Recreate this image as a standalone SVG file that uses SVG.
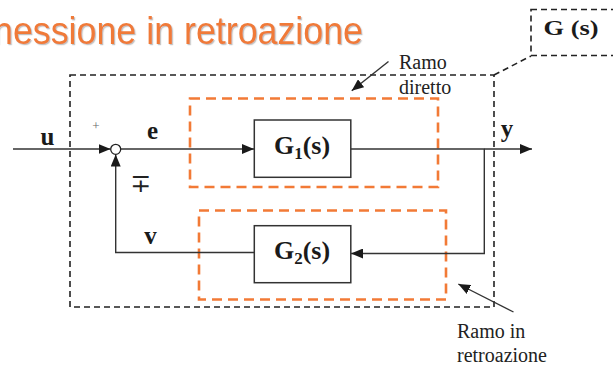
<svg xmlns="http://www.w3.org/2000/svg" width="613" height="367" viewBox="0 0 613 367">
<defs>
<marker id="arr" viewBox="0 0 12 10" refX="12" refY="5" markerWidth="12" markerHeight="10" markerUnits="userSpaceOnUse" orient="auto">
<path d="M0,0 L12,5 L0,10 Z" fill="#1a1a1a"/>
</marker>
<filter id="sh" x="-5%" y="-20%" width="110%" height="140%">
<feDropShadow dx="1.2" dy="1.2" stdDeviation="0.6" flood-color="#999" flood-opacity="0.6"/>
</filter>
<style>
.bd{fill:none;stroke:#222;stroke-width:1.6;stroke-dasharray:6 4}
.od{fill:none;stroke:#F27A36;stroke-width:2.6;stroke-dasharray:10 6}
.blk{fill:#fff;stroke:#333;stroke-width:1.5}
.ln{fill:none;stroke:#333;stroke-width:1.4}
.lb{font-family:"Liberation Serif","Times New Roman",serif;font-weight:bold;fill:#1a1a1a}
.tx{font-family:"Liberation Serif","Times New Roman",serif;font-size:20px;fill:#222}
</style>
</defs>
<rect width="613" height="367" fill="#fff"/>
<text x="-7" y="43.5" font-family="'Liberation Sans',Arial,sans-serif" font-size="39" fill="#F07A38" textLength="370" lengthAdjust="spacingAndGlyphs" filter="url(#sh)">nessione in retroazione</text>

<g id="frame-G">
<rect class="bd" x="70" y="75" width="424" height="232"/>
<path class="bd" d="M494,75 L531,56"/>
<rect class="bd" x="531" y="9.5" width="90" height="46"/>
<text class="lb" x="571" y="35" font-size="21" text-anchor="middle" textLength="55" lengthAdjust="spacingAndGlyphs">G (s)</text>
</g>

<g id="ramo-diretto">
<rect class="od" x="190" y="98.5" width="248" height="88.5"/>
<text class="tx" x="399" y="69">Ramo</text>
<text class="tx" x="399" y="94">diretto</text>
</g>

<g id="ramo-retroazione">
<rect class="od" x="199" y="210.5" width="247" height="89"/>
<text class="tx" x="457" y="337.5">Ramo in</text>
<text class="tx" x="457" y="361.5">retroazione</text>
</g>

<g id="connectors">
<line class="ln" x1="13" y1="149" x2="110.5" y2="149" marker-end="url(#arr)"/>
<line class="ln" x1="120.5" y1="149" x2="254" y2="149" marker-end="url(#arr)"/>
<polyline class="ln" points="351,149 484.5,149"/>
<line class="ln" x1="484" y1="149" x2="532" y2="149" marker-end="url(#arr)"/>
<polyline class="ln" points="484.3,149 484.3,253.5 351,253.5" marker-end="url(#arr)"/>
<polyline class="ln" points="254,252.5 115.7,252.5 115.7,154.5" marker-end="url(#arr)"/>
<line class="ln" x1="388.5" y1="61.5" x2="351.7" y2="90.7" marker-end="url(#arr)"/>
<line class="ln" x1="513.5" y1="312" x2="458.3" y2="284" marker-end="url(#arr)"/>
</g>

<g id="sum">
<circle cx="115.7" cy="149.3" r="5" fill="#fff" stroke="#222" stroke-width="1.3"/>
<text x="96" y="130" font-family="'Liberation Serif',serif" font-size="13" fill="#666" text-anchor="middle">+</text>
<text x="141" y="192" font-family="'DejaVu Serif',serif" font-size="25" fill="#222" text-anchor="middle">∓</text>
</g>

<g id="G1">
<rect class="blk" x="254.3" y="120" width="96.5" height="57.3"/>
<text class="lb" x="302" y="154" font-size="26" text-anchor="middle">G<tspan font-size="17" dy="5">1</tspan><tspan dy="-5">(s)</tspan></text>
</g>

<g id="G2">
<rect class="blk" x="254.3" y="225.7" width="96.5" height="57"/>
<text class="lb" x="302" y="259" font-size="26" text-anchor="middle">G<tspan font-size="17" dy="5">2</tspan><tspan dy="-5">(s)</tspan></text>
</g>

<g id="labels">
<text class="lb" x="47.5" y="145" font-size="25" text-anchor="middle">u</text>
<text class="lb" x="152.5" y="139" font-size="25" text-anchor="middle">e</text>
<text class="lb" x="150.5" y="244" font-size="25" text-anchor="middle">v</text>
<text class="lb" x="507" y="137" font-size="25" text-anchor="middle">y</text>
</g>
</svg>
